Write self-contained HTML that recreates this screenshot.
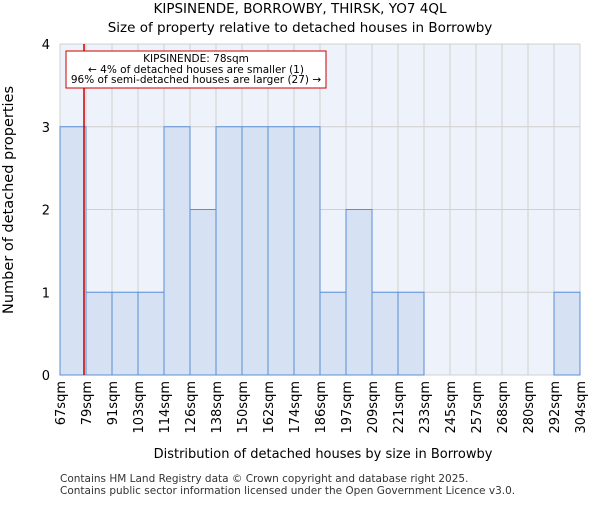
<!DOCTYPE html>
<html><head><meta charset="utf-8"><style>
body{margin:0;background:#fff;}
svg{font-family:"DejaVu Sans","Liberation Sans",sans-serif;}
</style></head><body>
<svg id="chart" width="600" height="500" xmlns="http://www.w3.org/2000/svg">
<text x="300" y="13" text-anchor="middle" font-size="13.5">KIPSINENDE, BORROWBY, THIRSK, YO7 4QL</text>
<text x="300" y="32" text-anchor="middle" font-size="13.5">Size of property relative to detached houses in Borrowby</text>
<rect x="60" y="44" width="520" height="331" fill="#eef2fa"/>
<g id="grid"></g>
<g id="bars"></g>
<g id="yticks"></g>
<g id="xticks"></g>
<line x1="84" y1="44" x2="84" y2="375" stroke="#cc0000" stroke-width="1.5"/>
<rect x="66" y="51" width="260" height="37" fill="#fff" stroke="#cc0000" stroke-width="1"/>
<text x="196" y="62" text-anchor="middle" font-size="10.5">KIPSINENDE: 78sqm</text>
<text x="196" y="73" text-anchor="middle" font-size="10.5">← 4% of detached houses are smaller (1)</text>
<text x="196" y="83" text-anchor="middle" font-size="10.5">96% of semi-detached houses are larger (27) →</text>
<text x="323" y="458" text-anchor="middle" font-size="13">Distribution of detached houses by size in Borrowby</text>
<text transform="translate(13,200) rotate(-90)" text-anchor="middle" font-size="14.5">Number of detached properties</text>
<text x="60" y="482" font-size="10.5" fill="#333">Contains HM Land Registry data © Crown copyright and database right 2025.</text>
<text x="60" y="494" font-size="10.5" fill="#333">Contains public sector information licensed under the Open Government Licence v3.0.</text>
</svg>
<script>
const tickLabels=["67sqm","79sqm","91sqm","103sqm","114sqm","126sqm","138sqm","150sqm","162sqm","174sqm","186sqm","197sqm","209sqm","221sqm","233sqm","245sqm","257sqm","268sqm","280sqm","292sqm","304sqm"];
const counts=[3,1,1,1,3,2,3,3,3,3,1,2,1,1,0,0,0,0,0,1];
const yTicks=[0,1,2,3,4];
const NS="http://www.w3.org/2000/svg";
const x0=60,pw=520,y0=375,ph=331,ymax=4;
const bw=pw/counts.length;
function xs(i){return x0+i*bw;}
function ys(v){return y0-v/ymax*ph;}
function mk(t,a,p){const e=document.createElementNS(NS,t);for(const k in a)e.setAttribute(k,a[k]);document.getElementById(p).appendChild(e);return e;}
for(let i=0;i<=counts.length;i++){
 const g=mk('line',{x1:xs(i),x2:xs(i),y1:44,y2:y0,stroke:'#d0d0d0','stroke-width':1},'grid');
 
 
}
yTicks.forEach(v=>{
 const g=mk('line',{x1:x0,x2:x0+pw,y1:ys(v),y2:ys(v),stroke:'#d0d0d0','stroke-width':1},'grid');
 
 
 const t=mk('text',{x:x0-10,y:ys(v)+5,'text-anchor':'end','font-size':13},'yticks');
 t.textContent=v;
 
 
});
counts.forEach((c,i)=>{
 if(c<=0)return;
 const r=mk('rect',{x:xs(i),y:ys(c),width:bw,height:y0-ys(c),fill:'#d6e1f3',stroke:'#5b8fd6','stroke-width':1},'bars');
 
 
});
tickLabels.forEach((l,i)=>{
 const x=xs(i);
 const t=mk('text',{transform:`translate(${x+5},381) rotate(-90)`,'text-anchor':'end','font-size':13},'xticks');
 t.textContent=l;
 
 
});
</script>
</body></html>
